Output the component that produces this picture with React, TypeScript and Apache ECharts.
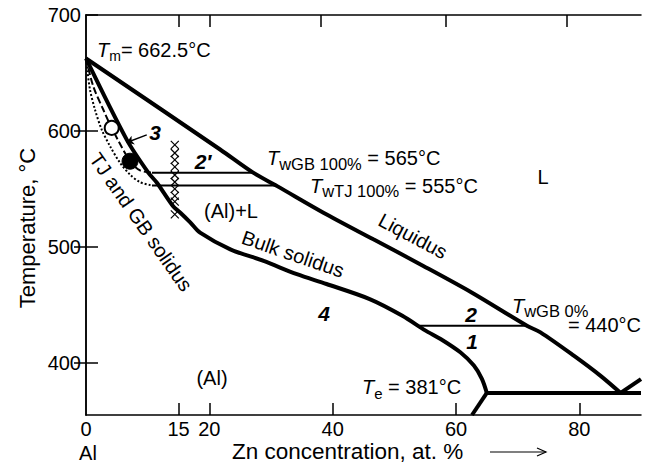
import React, { useEffect, useRef } from "react";
import * as echarts from "echarts";

const FONT = '"Liberation Sans", Arial, Helvetica, sans-serif';

// ---- axis ticks / labels ----
const xTickLabels = [0, 15, 20, 40, 60, 80];
const xBottomTicks = [15, 20, 40, 60, 80];
const xTopTicks = [15, 20, 38, 58.3, 78];
const yTickLabels = [400, 500, 600, 700];
const yRightTicks = [400, 500, 600];

// ---- phase boundaries (Zn at.%, °C) ----
const liquidus = [
  [0, 662.5], [21.75, 584], [27.1, 564], [31, 552.4], [38.5, 529.5],
  [46.6, 506.5], [54.7, 483.6], [62.6, 460.5], [71.5, 432], [73.7, 426.3],
  [79.1, 406.2], [83.4, 389], [86.7, 374],
];
const bulkSolidus = [
  [0, 662.5], [6.6, 592.5], [10.1, 564], [11.5, 555.3], [14.1, 535.2],
  [15.3, 529.5], [16.9, 521.2], [18.5, 512.3], [23.4, 497.9], [28.8, 487.9],
  [34.2, 476.4], [39, 468], [46, 455], [51.3, 440.6], [55, 428],
  [57.5, 420.6], [60.7, 409.1], [62.9, 397.6], [64.2, 386.2], [65.0, 374],
];
const solidusBelowEutectic = [[65.0, 374], [62.6, 355]];
const eutecticLine = [[65.0, 374], [90, 374]];
const zincSideLine = [[86.7, 374], [90, 386]];
const tieLineGB100 = [[10.7, 564], [27.1, 564]];
const tieLineTJ100 = [[10.7, 553], [31.0, 553]];
const tieLineGB0 = [[54.1, 432], [71.5, 432]];
const gbSolidusDashed = [
  [0, 662.5], [1.19, 638.3], [2.81, 618.3], [4.17, 602.6], [7.14, 573.9],
  [8.77, 565.9], [10.7, 564],
];
const tjSolidusDotted = [
  [0, 662.5], [0.21, 652.7], [0.65, 635.5], [1.46, 618.3], [2.55, 601.1],
  [3.9, 586.8], [5.52, 572.5], [7.14, 562.4], [8.77, 555.8], [10.7, 553],
];
const openCircle = [[4.17, 602.6]];
const filledCircle = [[7.14, 573.9]];
const crossX = 14.4;
const crossTemps = [588, 581, 575, 569, 562, 556, 550, 544, 539, 528];
const arrow3 = [[9.85, 596.6], [6.6, 590]];

const lineSeries = (data: number[][], width: number, type: any = "solid", smooth: number | boolean = 0.3) => ({
  type: "line",
  data,
  symbol: "none",
  showSymbol: false,
  smooth,
  silent: true,
  lineStyle: { color: "#000", width, type, cap: "butt", opacity: 1 },
  z: 3,
});

const txt = (x: number, y: number, text: string, opts: any = {}) => ({
  type: "text",
  x,
  y,
  rotation: opts.rotation || 0,
  silent: true,
  z: 10,
  style: {
    text,
    fill: "#000",
    fontFamily: FONT,
    fontSize: opts.fontSize || 20,
    fontStyle: opts.fontStyle || "normal",
    fontWeight: opts.fontWeight || "normal",
    align: opts.align || "center",
    textAlign: opts.align || "center",
    verticalAlign: "middle",
    textVerticalAlign: "middle",
  },
});

const richBase = (subSize: number, subPad: number) => ({
  t: { fontFamily: FONT, fontSize: 20, fontStyle: "italic", fill: "#000", color: "#000" },
  s: { fontFamily: FONT, fontSize: subSize, fill: "#000", color: "#000", padding: [subPad, 0, 0, 0] },
  n: { fontFamily: FONT, fontSize: 20, fill: "#000", color: "#000" },
});

const tLabel = (x: number, y: number, sub: string, rest: string, subSize: number, subPad: number) => ({
  type: "text",
  x,
  y,
  silent: true,
  z: 10,
  style: {
    text: `{t|T}{s|${sub}}{n|${rest}}`,
    fill: "#000",
    fontFamily: FONT,
    fontSize: 20,
    align: "left",
    textAlign: "left",
    verticalAlign: "middle",
    textVerticalAlign: "middle",
    rich: richBase(subSize, subPad),
  },
});

const deg = (d: number) => (d * Math.PI) / 180;

export default function App() {
  const ref = useRef<HTMLDivElement>(null);

  useEffect(() => {
    if (!ref.current) return;
    const chart = echarts.init(ref.current, undefined, { renderer: "svg" });
    const axisLine = { show: true, lineStyle: { color: "#000", width: 1.5 } };
    const tickStyle = { color: "#000", width: 1.5 };

    const option: any = {
      animation: false,
      backgroundColor: "#fff",
      grid: { left: 86, top: 15, right: 10, bottom: 49 },
      xAxis: [
        {
          type: "value", min: 0, max: 90, position: "bottom",
          axisLine,
          axisTick: { show: true, inside: true, length: 12, customValues: xBottomTicks, lineStyle: tickStyle },
          axisLabel: { show: true, customValues: xTickLabels, fontSize: 20, fontFamily: FONT, color: "#000", margin: 4 },
          splitLine: { show: false },
        },
        {
          type: "value", min: 0, max: 90, position: "top",
          axisLine,
          axisTick: { show: true, inside: true, length: 12, customValues: xTopTicks, lineStyle: tickStyle },
          axisLabel: { show: false },
          splitLine: { show: false },
        },
      ],
      yAxis: [
        {
          type: "value", min: 355, max: 700, position: "left",
          axisLine,
          axisTick: { show: true, inside: true, length: 12, customValues: yTickLabels, lineStyle: tickStyle },
          axisLabel: { show: true, customValues: yTickLabels, fontSize: 20, fontFamily: FONT, color: "#000", margin: 5 },
          splitLine: { show: false },
        },
        {
          type: "value", min: 355, max: 700, position: "right",
          axisLine,
          axisTick: { show: true, inside: true, length: 12, customValues: yRightTicks, lineStyle: tickStyle },
          axisLabel: { show: false },
          splitLine: { show: false },
        },
      ],
      series: [
        lineSeries(liquidus, 4),
        lineSeries(bulkSolidus, 4),
        lineSeries(solidusBelowEutectic, 4, "solid", false),
        lineSeries(eutecticLine, 4, "solid", false),
        lineSeries(zincSideLine, 4, "solid", false),
        lineSeries(tieLineGB100, 2, "solid", false),
        lineSeries(tieLineTJ100, 2, "solid", false),
        lineSeries(tieLineGB0, 2, "solid", false),
        lineSeries(gbSolidusDashed, 2, [7, 3]),
        lineSeries(tjSolidusDotted, 2, "dotted"),
        {
          type: "scatter",
          data: crossTemps.map((t) => [crossX, t]),
          symbol: "path://M0,0L10,10M10,0L0,10",
          symbolSize: 8,
          silent: true,
          itemStyle: { color: "rgba(0,0,0,0)", borderColor: "#000", borderWidth: 1.2, opacity: 1 },
          z: 4,
        },
        {
          type: "scatter",
          data: openCircle,
          symbol: "circle",
          symbolSize: 14,
          silent: true,
          itemStyle: { color: "#fff", borderColor: "#000", borderWidth: 2, opacity: 1 },
          z: 5,
        },
        {
          type: "scatter",
          data: filledCircle,
          symbol: "circle",
          symbolSize: 16,
          silent: true,
          itemStyle: { color: "#000", borderColor: "#000", borderWidth: 1, opacity: 1 },
          z: 5,
        },
        {
          type: "lines",
          coordinateSystem: "cartesian2d",
          silent: true,
          symbol: ["none", "arrow"],
          symbolSize: 7,
          lineStyle: { color: "#000", width: 1.5, opacity: 1 },
          data: [{ coords: arrow3 }],
          z: 6,
        },
      ],
      graphic: [
        tLabel(97, 50, "m", "= 662.5°C", 14, 12),
        tLabel(267, 158, "wGB 100%", " = 565°C", 16.5, 12),
        tLabel(310, 186, "wTJ 100%", " = 555°C", 16.5, 10),
        {
          type: "text",
          x: 512,
          y: 292,
          silent: true,
          z: 10,
          style: {
            text: "{t|T}{s|wGB 0%}\n{m|= 440°C}",
            fill: "#000",
            fontFamily: FONT,
            fontSize: 20,
            align: "left",
            textAlign: "left",
            verticalAlign: "top",
            textVerticalAlign: "top",
            rich: {
              ...richBase(16.5, 10),
              m: { fontFamily: FONT, fontSize: 20, fill: "#000", color: "#000", lineHeight: 12, padding: [0, 0, 0, 56] },
            },
          },
        },
        tLabel(362, 387, "e", " = 381°C", 15, 12),
        txt(231, 211, "(Al)+L"),
        txt(543, 177, "L"),
        txt(212, 378, "(Al)"),
        txt(88, 453, "Al"),
        txt(203, 161, "2\u2032", { fontSize: 21, fontStyle: "italic", fontWeight: "bold" }),
        txt(155, 132, "3", { fontSize: 21, fontStyle: "italic", fontWeight: "bold" }),
        txt(324, 313, "4", { fontSize: 21, fontStyle: "italic", fontWeight: "bold" }),
        txt(471, 314, "2", { fontSize: 21, fontStyle: "italic", fontWeight: "bold" }),
        txt(472, 341, "1", { fontSize: 21, fontStyle: "italic", fontWeight: "bold" }),
        txt(413, 236, "Liquidus", { rotation: deg(-28) }),
        txt(293, 254, "Bulk solidus", { rotation: deg(-19) }),
        txt(141, 222, "TJ and GB solidus", { rotation: deg(-55) }),
        txt(27, 228, "Temperature, °C", { rotation: deg(90), fontSize: 22 }),
        txt(232, 451, "Zn concentration, at. %", { align: "left", fontSize: 22.5 }),
        {
          type: "line", silent: true, z: 10,
          shape: { x1: 490, y1: 452, x2: 546, y2: 452 },
          style: { stroke: "#000", lineWidth: 1.2 },
        },
        {
          type: "polyline", silent: true, z: 10,
          shape: { points: [[537, 448], [546, 452], [537, 456]] },
          style: { stroke: "#000", lineWidth: 1.2, fill: "none" },
        },
      ],
    };
    chart.setOption(option);
    return () => chart.dispose();
  }, []);

  return (
    <div
      ref={ref}
      style={{ position: "absolute", left: 0, top: 0, width: 651, height: 464, background: "#fff" }}
    />
  );
}
